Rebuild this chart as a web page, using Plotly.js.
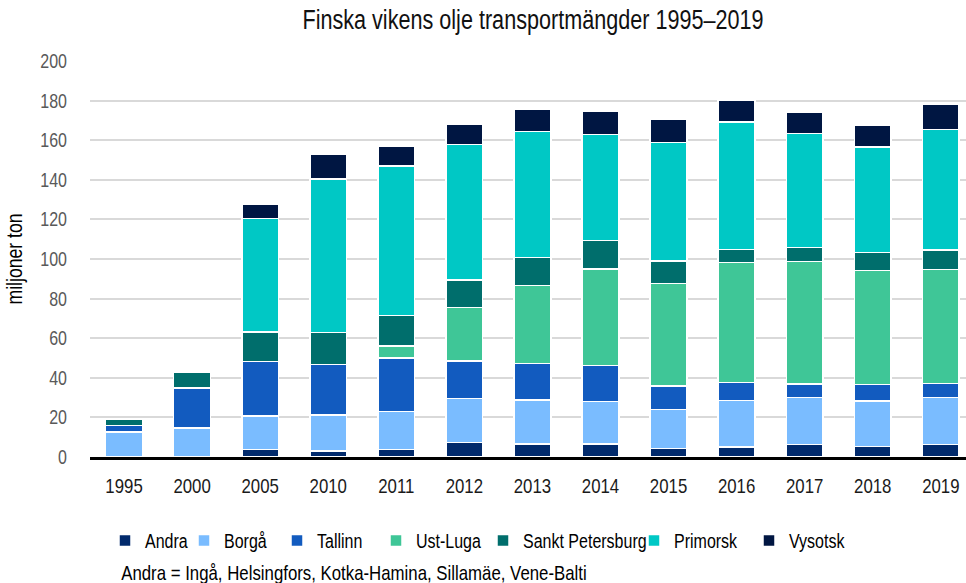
<!DOCTYPE html>
<html>
<head>
<meta charset="utf-8">
<script src="https://cdn.plot.ly/plotly-3.0.1.min.js"></script>
<style>html,body{margin:0;padding:0;background:#fff;overflow:hidden}#chart{width:966px;height:583px}</style>
</head>
<body>
<div id="chart"></div>
<script>
const years = ["1995","2000","2005","2010","2011","2012","2013","2014","2015","2016","2017","2018","2019"];
const andra = [0, 0, 3.9, 3.0, 3.7, 7.3, 6.6, 6.6, 4.2, 5.0, 6.3, 5.3, 6.3];
const borga = [12.6, 14.6, 16.7, 18.1, 19.3, 22.2, 22.2, 21.5, 19.7, 23.6, 23.7, 23.0, 23.7];
const tallinn = [3.4, 20.2, 27.7, 25.7, 27.0, 19.0, 18.4, 18.1, 12.0, 9.0, 6.9, 8.3, 7.1];
const ustLuga = [0, 0, 0, 0, 6.0, 27.0, 39.4, 48.8, 51.7, 60.6, 61.9, 57.7, 57.7];
const sanktPetersburg = [3.0, 8.0, 14.8, 16.2, 15.5, 13.9, 14.1, 14.4, 11.4, 6.5, 7.1, 8.9, 9.7];
const primorsk = [0, 0, 57.3, 77.3, 75.5, 68.4, 63.6, 53.6, 59.8, 64.5, 57.6, 53.4, 61.0];
const vysotsk = [0, 0, 7.2, 12.4, 10.0, 10.2, 11.2, 11.6, 11.6, 11.0, 10.4, 10.9, 12.6];
const seriesNames = ["Andra", "Borgå", "Tallinn", "Ust-Luga", "Sankt Petersburg", "Primorsk", "Vysotsk"];
const seriesValues = [andra, borga, tallinn, ustLuga, sanktPetersburg, primorsk, vysotsk];
const seriesColors = ["#012a6c", "#7abcff", "#125bbf", "#3fc697", "#006e6c", "#00c8c5", "#001642"];
const titleText = "Finska vikens olje transportmängder 1995–2019";
const yTitle = "miljoner ton";
const footnote = "Andra = Ingå, Helsingfors, Kotka-Hamina, Sillamäe, Vene-Balti";

const FONT = "Liberation Sans, Arial, sans-serif";
const CONDENSE = 0.8; // horizontal squeeze to mimic a condensed face
// legend text start positions (px) in the 966x583 frame
const legendTextX = [144, 223, 316, 415, 522, 673, 788];

const traces = seriesNames.map((name, i) => ({
  type: "bar",
  name: name,
  x: years,
  y: seriesValues[i],
  marker: {color: seriesColors[i], line: {color: "#ffffff", width: 1.5}},
  legend: i === 0 ? "legend" : "legend" + (i + 1),
  hoverinfo: "x+y+name"
}));

const layout = {
  width: 966,
  height: 583,
  margin: {l: 90, r: 0, t: 60.7, b: 126.3},
  paper_bgcolor: "#ffffff",
  plot_bgcolor: "#ffffff",
  barmode: "stack",
  bargap: 0.46,
  font: {family: FONT, color: "#000000", size: 20},
  title: {
    text: titleText,
    font: {family: FONT, size: 27, color: "#111111"},
    x: 533 / 966, xanchor: "center", xref: "container",
    y: 1 - 20 / 583, yanchor: "middle", yref: "container"
  },
  xaxis: {
    type: "category",
    range: [-0.5, 12.37],
    showgrid: false,
    showline: true,
    linecolor: "#000000",
    linewidth: 3,
    ticks: "outside",
    ticklen: 8,
    tickcolor: "rgba(0,0,0,0)",
    tickfont: {family: FONT, size: 21, color: "#1a1a1a"},
    fixedrange: true
  },
  yaxis: {
    range: [0, 200],
    dtick: 20,
    showgrid: true,
    gridcolor: "#d9d9d9",
    gridwidth: 2,
    zeroline: false,
    showline: false,
    ticks: "outside",
    ticklen: 18,
    tickcolor: "rgba(0,0,0,0)",
    tickfont: {family: FONT, size: 20, color: "#595959"},
    title: {text: yTitle, font: {family: FONT, size: 22, color: "#000000"}, standoff: 4},
    fixedrange: true
  },
  annotations: [{
    text: footnote,
    xref: "paper", yref: "paper",
    x: (353.5 - 90) / 876, xanchor: "center",
    y: (456.7 - 572) / 396, yanchor: "middle",
    showarrow: false,
    font: {family: FONT, size: 21, color: "#000000"}
  }]
};

seriesNames.forEach((n, i) => {
  const key = i === 0 ? "legend" : "legend" + (i + 1);
  layout[key] = {
    xref: "container", yref: "container",
    x: (legendTextX[i] - 39) / 966, xanchor: "left",
    y: 1 - 540.5 / 583, yanchor: "middle",
    orientation: "h",
    bgcolor: "rgba(0,0,0,0)",
    borderwidth: 0,
    font: {family: FONT, size: 20, color: "#000000"},
    itemclick: false, itemdoubleclick: false
  };
});
layout.showlegend = true;

Plotly.newPlot("chart", traces, layout, {displayModeBar: false, staticPlot: true}).then(gd => {
  gd.querySelectorAll("svg text").forEach(t => {
    const len = t.getComputedTextLength();
    if (len > 0) {
      t.setAttribute("textLength", (len * CONDENSE).toFixed(2));
      t.setAttribute("lengthAdjust", "spacingAndGlyphs");
    }
  });
});
</script>
</body>
</html>
